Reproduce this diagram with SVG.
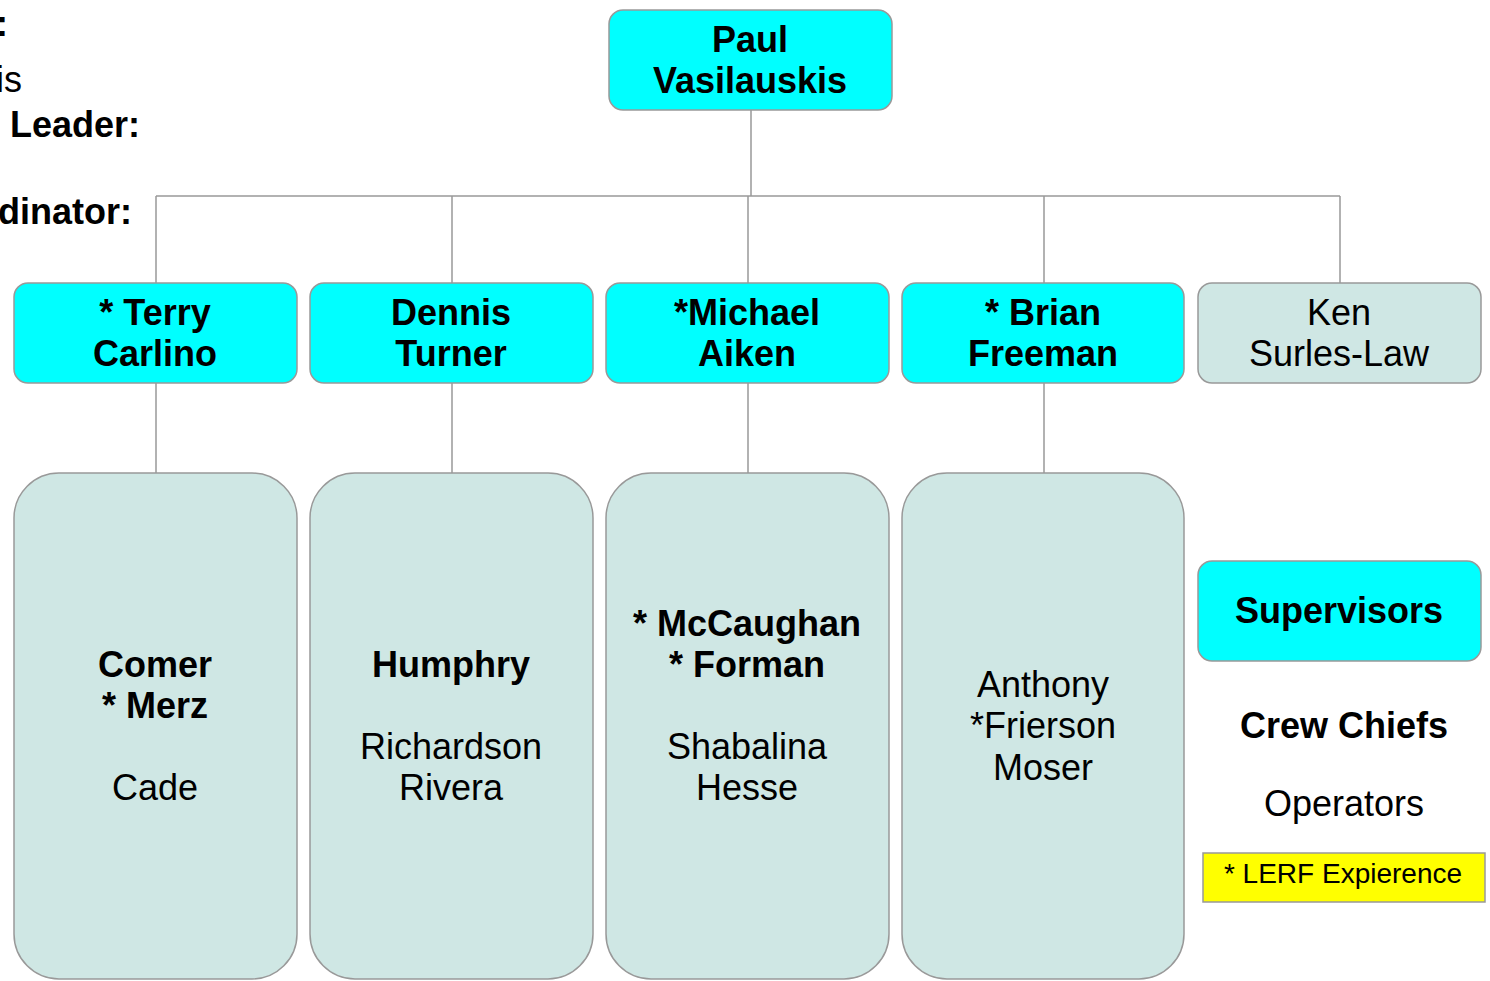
<svg xmlns="http://www.w3.org/2000/svg" width="1490" height="981" viewBox="0 0 1490 981">
<style>
text{font-family:"Liberation Sans",Arial,sans-serif;font-size:36px;fill:#000;text-anchor:middle}
.b{font-weight:bold}
.l{text-anchor:start}
.cy{fill:#00ffff;stroke:#999;stroke-width:1.5}
.gr{fill:#cfe7e4;stroke:#999;stroke-width:1.5}
.conn{stroke:#999;stroke-width:1.5;fill:none}
</style>
<rect width="1490" height="981" fill="#fff"/>
<g id="title-text">
<text class="b l" x="-4" y="36">:</text>
<text class="l" x="-4" y="92">is</text>
<text class="b l" x="10" y="137">Leader:</text>
<text class="b l" x="-2" y="224">dinator:</text>
</g>
<g id="connectors">
<path class="conn" d="M751 110V196M156 196H1340M156 196V283M452 196V283M748 196V283M1044 196V283M1340 196V283M156 383V473M452 383V473M748 383V473M1044 383V473"/>
</g>
<g id="root"><rect class="cy" x="609" y="10" width="283" height="100" rx="14"/><text class="b" x="750" y="52">Paul</text><text class="b" x="750" y="93">Vasilauskis</text></g>
<g id="terry"><rect class="cy" x="14" y="283" width="283" height="100" rx="14"/><text class="b" x="155" y="325">* Terry</text><text class="b" x="155" y="366">Carlino</text></g>
<g id="dennis"><rect class="cy" x="310" y="283" width="283" height="100" rx="14"/><text class="b" x="451" y="325">Dennis</text><text class="b" x="451" y="366">Turner</text></g>
<g id="michael"><rect class="cy" x="606" y="283" width="283" height="100" rx="14"/><text class="b" x="747" y="325">*Michael</text><text class="b" x="747" y="366">Aiken</text></g>
<g id="brian"><rect class="cy" x="902" y="283" width="282" height="100" rx="14"/><text class="b" x="1043" y="325">* Brian</text><text class="b" x="1043" y="366">Freeman</text></g>
<g id="ken"><rect class="gr" x="1198" y="283" width="283" height="100" rx="14"/><text x="1339" y="325">Ken</text><text x="1339" y="366">Surles-Law</text></g>
<g id="crew1"><rect class="gr" x="14" y="473" width="283" height="506" rx="45"/><text class="b" x="155" y="677">Comer</text><text class="b" x="155" y="718">* Merz</text><text x="155" y="800">Cade</text></g>
<g id="crew2"><rect class="gr" x="310" y="473" width="283" height="506" rx="45"/><text class="b" x="451" y="677">Humphry</text><text x="451" y="759">Richardson</text><text x="451" y="800">Rivera</text></g>
<g id="crew3"><rect class="gr" x="606" y="473" width="283" height="506" rx="45"/><text class="b" x="747" y="636">* McCaughan</text><text class="b" x="747" y="677">* Forman</text><text x="747" y="759">Shabalina</text><text x="747" y="800">Hesse</text></g>
<g id="crew4"><rect class="gr" x="902" y="473" width="282" height="506" rx="45"/><text x="1043" y="697">Anthony</text><text x="1043" y="738">*Frierson</text><text x="1043" y="780">Moser</text></g>
<g id="legend">
<rect class="cy" x="1198" y="561" width="283" height="100" rx="14"/><text class="b" x="1339" y="623">Supervisors</text>
<text class="b" x="1344" y="738">Crew Chiefs</text>
<text x="1344" y="816">Operators</text>
<rect x="1203" y="853" width="282" height="49" fill="#ffff00" stroke="#999" stroke-width="1.5"/>
<text x="1343" y="883" style="font-size:28px">* LERF Expierence</text>
</g>
</svg>
